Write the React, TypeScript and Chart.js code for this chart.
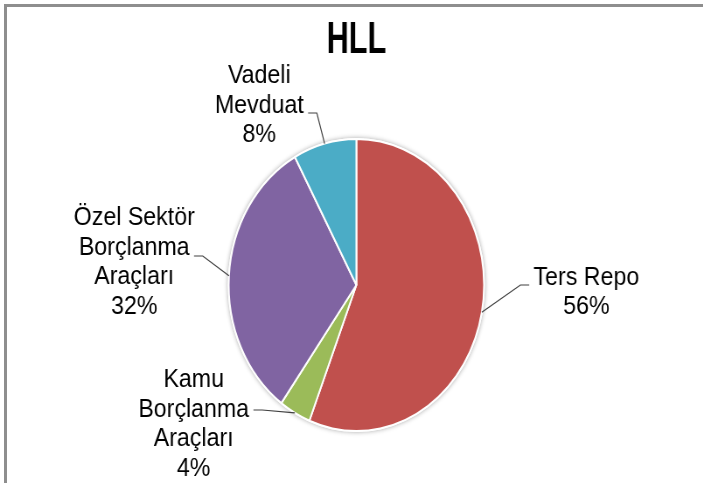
import React, { useEffect, useRef } from "react";
import { Chart, registerables } from "chart.js";

Chart.register(...registerables);

// ---- data ----
const TITLE = "HLL";
const categories = ["Ters Repo", "Kamu Borçlanma Araçları", "Özel Sektör Borçlanma Araçları", "Vadeli Mevduat"];
const labelLines = [["Ters Repo"], ["Kamu", "Borçlanma", "Araçları"], ["Özel Sektör", "Borçlanma", "Araçları"], ["Vadeli", "Mevduat"]];
const shares = [56, 4, 32, 8];
const colors = ["#C0504D", "#9BBB59", "#8064A2", "#4BACC6"];

// ---- layout (not data) ----
const VIEW_W = 703;
const VIEW_H = 483;
const SCALE_X = 0.8745;
const CANVAS_W = Math.round(VIEW_W / SCALE_X);
const FONT = '"Liberation Sans", Arial, sans-serif';
const FONT_SIZE = 26.5;
const LINE_H = 29.5;
const GAP = 5;
const ELBOW = 10;
const TITLE_SIZE = 45;
const TITLE_SQUEEZE = 0.78;
const TITLE_Y = 41;
// label block centre relative to pie centre, leader row offset relative to block centre
const placement = [
  { dx: 263, dy: 7, ly: -7 },
  { dx: -186, dy: 139, ly: -14 },
  { dx: -254, dy: -23, ly: -6 },
  { dx: -111, dy: -179.5, ly: 7.5 },
];

const shadowPlugin = {
  id: "pieShadow",
  beforeDatasetsDraw(chart: any) {
    const meta = chart.getDatasetMeta(0);
    const arc = meta.data[0];
    if (!arc) return;
    const { x, y, outerRadius } = arc.getProps(["x", "y", "outerRadius"], true);
    const ctx = chart.ctx;
    ctx.save();
    ctx.shadowColor = "rgba(0,0,0,0.35)";
    ctx.shadowBlur = 5;
    ctx.fillStyle = "#ffffff";
    ctx.beginPath();
    ctx.arc(x, y, outerRadius + 1, 0, Math.PI * 2);
    ctx.fill();
    ctx.restore();
  },
};

const titlePlugin = {
  id: "narrowTitle",
  afterDraw(chart: any) {
    const ctx = chart.ctx;
    const area = chart.chartArea;
    const cx = (area.left + area.right) / 2;
    ctx.save();
    ctx.translate(cx, TITLE_Y);
    ctx.scale(TITLE_SQUEEZE, 1);
    ctx.font = `bold ${TITLE_SIZE}px ${FONT}`;
    ctx.textAlign = "center";
    ctx.textBaseline = "middle";
    ctx.fillStyle = "#000000";
    ctx.fillText(TITLE, 0, 0);
    ctx.restore();
  },
};

const labelPlugin = {
  id: "outsideLabels",
  afterDatasetsDraw(chart: any) {
    const ctx = chart.ctx;
    const meta = chart.getDatasetMeta(0);
    const data = chart.data.datasets[0].data as number[];
    const total = data.reduce((a, b) => a + b, 0);
    ctx.save();
    ctx.font = `${FONT_SIZE}px ${FONT}`;
    ctx.textAlign = "center";
    ctx.textBaseline = "middle";
    ctx.fillStyle = "#000000";
    ctx.strokeStyle = "#404040";
    ctx.lineWidth = 1.2;
    meta.data.forEach((arc: any, i: number) => {
      const { x, y, startAngle, endAngle, outerRadius } = arc.getProps(
        ["x", "y", "startAngle", "endAngle", "outerRadius"],
        true
      );
      const mid = (startAngle + endAngle) / 2;
      const ex = x + Math.cos(mid) * outerRadius;
      const ey = y + Math.sin(mid) * outerRadius;
      const p = placement[i];
      const lines = [...labelLines[i], `${Math.round((data[i] / total) * 100)}%`];
      const cx = x + p.dx;
      const cy = y + p.dy;
      const n = lines.length;
      const offs = lines.map((_, k) => (k - (n - 1) / 2) * LINE_H);
      lines.forEach((t, k) => ctx.fillText(t, cx, cy + offs[k]));
      // leader line
      let idx = 0;
      offs.forEach((o, k) => {
        if (Math.abs(o - p.ly) < Math.abs(offs[idx] - p.ly)) idx = k;
      });
      const w = ctx.measureText(lines[idx]).width;
      const side = ex > cx ? 1 : -1;
      const ly = cy + p.ly;
      const sx = cx + side * (w / 2 + GAP);
      const hx = sx + side * ELBOW;
      ctx.beginPath();
      ctx.moveTo(sx, ly);
      ctx.lineTo(hx, ly);
      ctx.lineTo(ex, ey);
      ctx.stroke();
    });
    ctx.restore();
  },
};

function PieChart() {
  const ref = useRef<HTMLCanvasElement | null>(null);
  useEffect(() => {
    if (!ref.current) return;
    const chart = new Chart(ref.current, {
      type: "pie",
      data: {
        labels: categories,
        datasets: [
          {
            data: shares,
            backgroundColor: colors,
            borderColor: "#ffffff",
            borderWidth: 2,
          },
        ],
      },
      options: {
        responsive: false,
        animation: false,
        devicePixelRatio: 1,
        layout: { padding: { left: 200, right: 189, top: 138, bottom: 51 } },
        plugins: {
          legend: { display: false },
          tooltip: { enabled: false },
          title: { display: false },
        },
      },
      plugins: [shadowPlugin, labelPlugin, titlePlugin],
    });
    return () => chart.destroy();
  }, []);
  return <canvas ref={ref} width={CANVAS_W} height={VIEW_H} />;
}

export default function App() {
  useEffect(() => {
    document.body.style.margin = "0";
  }, []);
  return (
    <div style={{ position: "relative", width: VIEW_W, height: VIEW_H, overflow: "hidden", background: "#ffffff" }}>
      <div
        style={{
          position: "absolute",
          left: 0,
          top: 0,
          width: CANVAS_W,
          height: VIEW_H,
          transform: `scaleX(${SCALE_X})`,
          transformOrigin: "0 0",
        }}
      >
        <PieChart />
      </div>
      <div
        style={{
          position: "absolute",
          left: 4,
          top: 4,
          width: VIEW_W + 20,
          height: VIEW_H + 20,
          borderTop: "3px solid #8e8e8e",
          borderLeft: "3px solid #8e8e8e",
          pointerEvents: "none",
        }}
      />
    </div>
  );
}
